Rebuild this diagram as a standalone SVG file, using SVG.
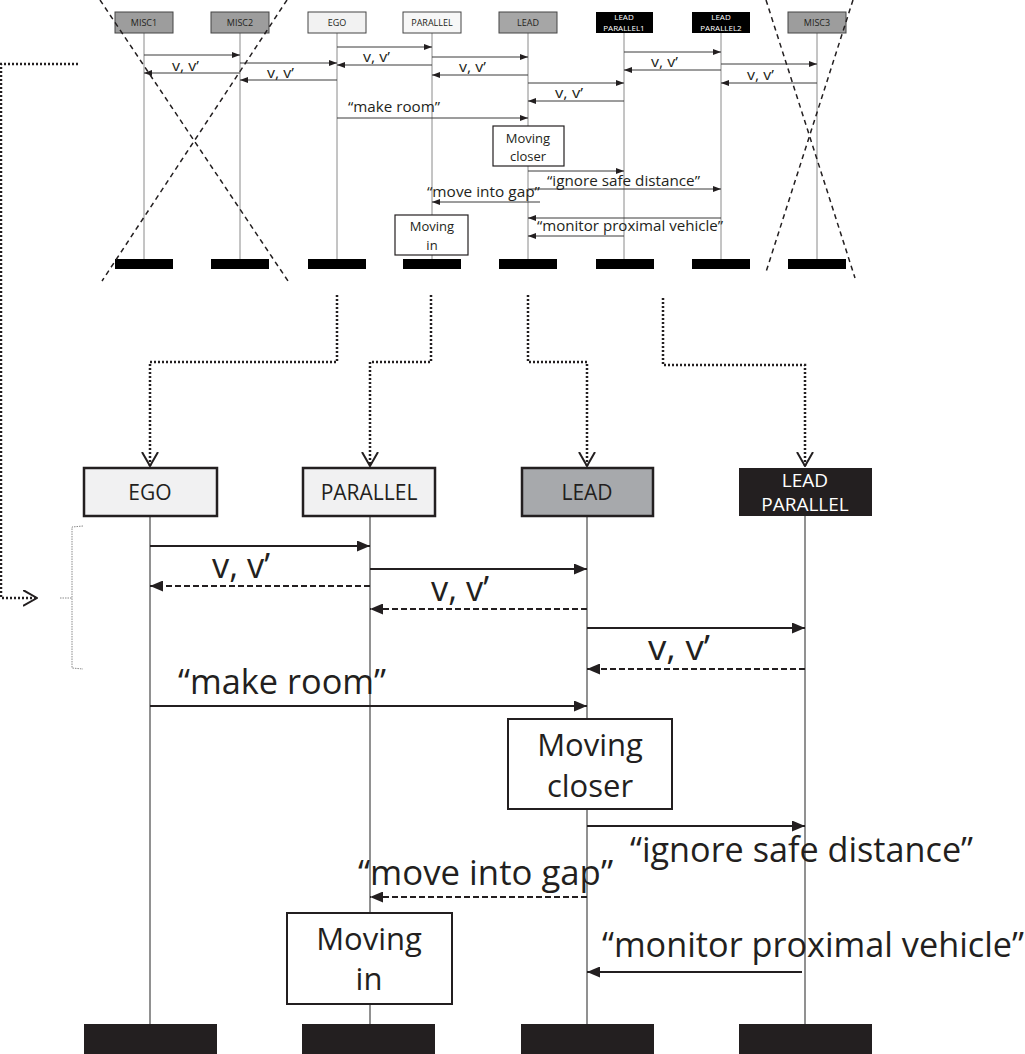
<svg xmlns="http://www.w3.org/2000/svg" width="1025" height="1054" viewBox="0 0 1025 1054">
<style>
text{font-family:"Open Sans","Noto Sans","DejaVu Sans",sans-serif;fill:#231f20}
.th{font-size:9px;text-anchor:middle}
.th2{font-size:8px;text-anchor:middle}
.tw{fill:#fff}
.tl{font-size:14px}
.tb{font-size:13px;text-anchor:middle}
.bh{font-size:21px;text-anchor:middle}
.bh2{font-size:19px;text-anchor:middle}
.bl{font-size:34px}
.bb{font-size:31px;text-anchor:middle}
.tlife{stroke:#8a8a8a;stroke-width:1}
.blife{stroke:#6d6d6d;stroke-width:1.5}
.tmsg{stroke:#3a3a3a;stroke-width:1;fill:none;marker-end:url(#ta)}
.bmsg{stroke:#231f20;stroke-width:2;fill:none;marker-end:url(#ba)}
.dash{stroke-dasharray:6 3}
.x{stroke:#231f20;stroke-width:1.5;stroke-dasharray:5 4;fill:none}
.dot{stroke:#231f20;stroke-width:2.5;stroke-dasharray:2 2;fill:none}
.dotv{marker-end:url(#va)}
</style>
<defs>
<marker id="ta" markerUnits="userSpaceOnUse" markerWidth="8" markerHeight="6" refX="8" refY="3" orient="auto"><path d="M0,0 L8,3 L0,6 z" fill="#231f20"/></marker>
<marker id="ba" markerUnits="userSpaceOnUse" markerWidth="13" markerHeight="11" refX="13" refY="5.5" orient="auto"><path d="M0,0 L13,5.5 L0,11 z" fill="#231f20"/></marker>
<marker id="va" markerUnits="userSpaceOnUse" markerWidth="15" markerHeight="18" refX="14" refY="8.5" orient="auto"><path d="M0,0.5 L14,8.5 L0,16.5" fill="none" stroke="#231f20" stroke-width="2"/></marker>
</defs>

<!-- ===== top (small) diagram ===== -->
<g id="top-lifelines">
<line class="tlife" x1="144" y1="33" x2="144" y2="259"/>
<line class="tlife" x1="240" y1="33" x2="240" y2="259"/>
<line class="tlife" x1="337" y1="33" x2="337" y2="259"/>
<line class="tlife" x1="432" y1="33" x2="432" y2="259"/>
<line class="tlife" x1="528" y1="33" x2="528" y2="259"/>
<line class="tlife" x1="624" y1="33" x2="624" y2="259"/>
<line class="tlife" x1="721" y1="33" x2="721" y2="259"/>
<line class="tlife" x1="817" y1="33" x2="817" y2="259"/>
</g>
<g id="t-misc1"><rect x="115" y="12" width="58" height="21" fill="#9d9d9d" stroke="#444" stroke-width="1"/><text class="th" x="144" y="26">MISC1</text><rect x="115" y="259" width="58" height="10" fill="#000"/></g>
<g id="t-misc2"><rect x="211" y="12" width="58" height="21" fill="#9d9d9d" stroke="#444" stroke-width="1"/><text class="th" x="240" y="26">MISC2</text><rect x="211" y="259" width="58" height="10" fill="#000"/></g>
<g id="t-ego"><rect x="308" y="12" width="58" height="21" fill="#f2f2f2" stroke="#444" stroke-width="1"/><text class="th" x="337" y="26">EGO</text><rect x="308" y="259" width="58" height="10" fill="#000"/></g>
<g id="t-parallel"><rect x="403" y="12" width="58" height="21" fill="#f7f7f7" stroke="#444" stroke-width="1"/><text class="th" x="432" y="26">PARALLEL</text><rect x="403" y="259" width="58" height="10" fill="#000"/></g>
<g id="t-lead"><rect x="499" y="12" width="58" height="21" fill="#a6a6a6" stroke="#444" stroke-width="1"/><text class="th" x="528" y="26">LEAD</text><rect x="499" y="259" width="58" height="10" fill="#000"/></g>
<g id="t-lp1"><rect x="596" y="12" width="57" height="21" fill="#000"/><text class="th2 tw" x="624" y="20">LEAD</text><text class="th2 tw" x="624" y="31">PARALLEL1</text><rect x="596" y="259" width="58" height="10" fill="#000"/></g>
<g id="t-lp2"><rect x="692" y="12" width="58" height="21" fill="#000"/><text class="th2 tw" x="721" y="20">LEAD</text><text class="th2 tw" x="721" y="31">PARALLEL2</text><rect x="692" y="259" width="58" height="10" fill="#000"/></g>
<g id="t-misc3"><rect x="788" y="12" width="58" height="21" fill="#9d9d9d" stroke="#444" stroke-width="1"/><text class="th" x="817" y="26">MISC3</text><rect x="788" y="259" width="58" height="10" fill="#000"/></g>
<g id="t-moving-closer"><rect x="493" y="126" width="71" height="40" fill="#fff" stroke="#231f20" stroke-width="1.2"/><text class="tb" x="528" y="143">Moving</text><text class="tb" x="528" y="161">closer</text></g>
<g id="t-moving-in"><rect x="395" y="215" width="73" height="40" fill="#fff" stroke="#231f20" stroke-width="1.2"/><text class="tb" x="432" y="231">Moving</text><text class="tb" x="432" y="250">in</text></g>

<g id="top-connectors">
<line class="tmsg" x1="144" y1="55" x2="240" y2="55"/>
<line class="tmsg" x1="240" y1="73" x2="144" y2="73"/>
<line class="tmsg" x1="240" y1="63" x2="337" y2="63"/>
<line class="tmsg" x1="337" y1="80" x2="240" y2="80"/>
<line class="tmsg" x1="337" y1="47" x2="432" y2="47"/>
<line class="tmsg" x1="432" y1="65" x2="337" y2="65"/>
<line class="tmsg" x1="432" y1="57" x2="528" y2="57"/>
<line class="tmsg" x1="528" y1="75" x2="432" y2="75"/>
<line class="tmsg" x1="528" y1="83" x2="624" y2="83"/>
<line class="tmsg" x1="624" y1="101" x2="528" y2="101"/>
<line class="tmsg" x1="624" y1="52" x2="721" y2="52"/>
<line class="tmsg" x1="721" y1="70" x2="624" y2="70"/>
<line class="tmsg" x1="721" y1="64" x2="817" y2="64"/>
<line class="tmsg" x1="817" y1="83" x2="721" y2="83"/>
<line class="tmsg" x1="337" y1="118" x2="528" y2="118"/>
<line class="tmsg" x1="528" y1="171" x2="624" y2="171"/>
<line class="tmsg" x1="528" y1="189" x2="721" y2="189"/>
<line class="tmsg" x1="540" y1="202" x2="432" y2="202"/>
<line class="tmsg" x1="721" y1="218" x2="528" y2="218"/>
<line class="tmsg" x1="624" y1="236" x2="528" y2="236"/>
<text class="tl" x="172" y="71" textLength="27" lengthAdjust="spacingAndGlyphs">v, v’</text>
<text class="tl" x="267" y="78" textLength="27" lengthAdjust="spacingAndGlyphs">v, v’</text>
<text class="tl" x="363" y="62" textLength="27" lengthAdjust="spacingAndGlyphs">v, v’</text>
<text class="tl" x="459" y="72" textLength="27" lengthAdjust="spacingAndGlyphs">v, v’</text>
<text class="tl" x="555" y="98" textLength="28" lengthAdjust="spacingAndGlyphs">v, v’</text>
<text class="tl" x="651" y="67" textLength="27" lengthAdjust="spacingAndGlyphs">v, v’</text>
<text class="tl" x="747" y="80" textLength="27" lengthAdjust="spacingAndGlyphs">v, v’</text>
<text class="tl" x="348" y="112" textLength="92" lengthAdjust="spacingAndGlyphs">“make room”</text>
<text class="tl" x="547" y="186" textLength="153" lengthAdjust="spacingAndGlyphs">“ignore safe distance”</text>
<text class="tl" x="427" y="197" textLength="113" lengthAdjust="spacingAndGlyphs">“move into gap”</text>
<text class="tl" x="537" y="231" textLength="186" lengthAdjust="spacingAndGlyphs">“monitor proximal vehicle”</text>
</g>

<g id="crosses">
<line class="x" x1="100" y1="0" x2="288" y2="281"/>
<line class="x" x1="287" y1="0" x2="102" y2="281"/>
<line class="x" x1="766" y1="0" x2="855" y2="278"/>
<line class="x" x1="853" y1="0" x2="766" y2="272"/>
</g>

<!-- ===== links between diagrams ===== -->
<g id="dotted-links">
<path class="dot" d="M78,64 L1,64 L1,598 L37,598" marker-end="url(#va)"/>
<path class="dot dotv" d="M337,295 L337,362 L150,362 L150,466"/>
<path class="dot dotv" d="M431,295 L431,362 L370,362 L370,466"/>
<path class="dot dotv" d="M528,295 L528,362 L587,362 L587,466"/>
<path class="dot dotv" d="M663,298 L663,365 L805,365 L805,466"/>
<path d="M83,526 L72,527 L72,668 L83,669 M60,598 L72,598" fill="none" stroke="#8a8a8a" stroke-width="1" stroke-dasharray="1.5 1"/>
</g>

<!-- ===== bottom (large) diagram ===== -->
<g id="bottom-lifelines">
<line class="blife" x1="150" y1="516" x2="150" y2="1024"/>
<line class="blife" x1="370" y1="516" x2="370" y2="1024"/>
<line class="blife" x1="587" y1="516" x2="587" y2="1024"/>
<line class="blife" x1="805" y1="516" x2="805" y2="1024"/>
</g>
<g id="ego"><rect x="84" y="468" width="133" height="48" fill="#f1f1f2" stroke="#231f20" stroke-width="2.5"/><text class="bh" x="150" y="500">EGO</text><rect x="84" y="1024" width="133" height="30" fill="#231f20"/></g>
<g id="parallel"><rect x="303" y="468" width="132" height="48" fill="#f1f1f2" stroke="#231f20" stroke-width="2.5"/><text class="bh" x="369" y="500">PARALLEL</text><rect x="302" y="1024" width="133" height="30" fill="#231f20"/></g>
<g id="lead"><rect x="522" y="468" width="131" height="48" fill="#a7a9ac" stroke="#231f20" stroke-width="2.5"/><text class="bh" x="587" y="500">LEAD</text><rect x="521" y="1024" width="133" height="30" fill="#231f20"/></g>
<g id="lead-parallel"><rect x="739" y="468" width="133" height="48" fill="#231f20"/><text class="bh2 tw" x="805" y="487">LEAD</text><text class="bh2 tw" x="805" y="511">PARALLEL</text><rect x="739" y="1024" width="133" height="30" fill="#231f20"/></g>
<g id="moving-closer"><rect x="508" y="719" width="164" height="90" fill="#fff" stroke="#231f20" stroke-width="2"/><text class="bb" x="590" y="756">Moving</text><text class="bb" x="590" y="797">closer</text></g>
<g id="moving-in"><rect x="287" y="913" width="165" height="91" fill="#fff" stroke="#231f20" stroke-width="2"/><text class="bb" x="369" y="950">Moving</text><text class="bb" x="369" y="990">in</text></g>

<g id="connectors">
<line class="bmsg" x1="150" y1="546" x2="370" y2="546"/>
<line class="bmsg dash" x1="370" y1="586" x2="150" y2="586"/>
<line class="bmsg" x1="370" y1="569" x2="587" y2="569"/>
<line class="bmsg dash" x1="587" y1="609" x2="370" y2="609"/>
<line class="bmsg" x1="587" y1="628" x2="805" y2="628"/>
<line class="bmsg dash" x1="805" y1="669" x2="587" y2="669"/>
<line class="bmsg" x1="150" y1="706" x2="587" y2="706"/>
<line class="bmsg" x1="587" y1="826" x2="805" y2="826"/>
<line class="bmsg dash" x1="587" y1="897" x2="370" y2="897"/>
<line class="bmsg" x1="802" y1="972" x2="587" y2="972"/>
<text class="bl" x="212" y="578" textLength="58" lengthAdjust="spacingAndGlyphs">v, v’</text>
<text class="bl" x="431" y="601" textLength="58" lengthAdjust="spacingAndGlyphs">v, v’</text>
<text class="bl" x="648" y="660" textLength="62" lengthAdjust="spacingAndGlyphs">v, v’</text>
<text class="bl" x="178" y="694" textLength="208" lengthAdjust="spacingAndGlyphs">“make room”</text>
<text class="bl" x="630" y="862" textLength="343" lengthAdjust="spacingAndGlyphs">“ignore safe distance”</text>
<text class="bl" x="358" y="885" textLength="255" lengthAdjust="spacingAndGlyphs">“move into gap”</text>
<text class="bl" x="602" y="957" textLength="422" lengthAdjust="spacingAndGlyphs">“monitor proximal vehicle”</text>
</g>
</svg>
